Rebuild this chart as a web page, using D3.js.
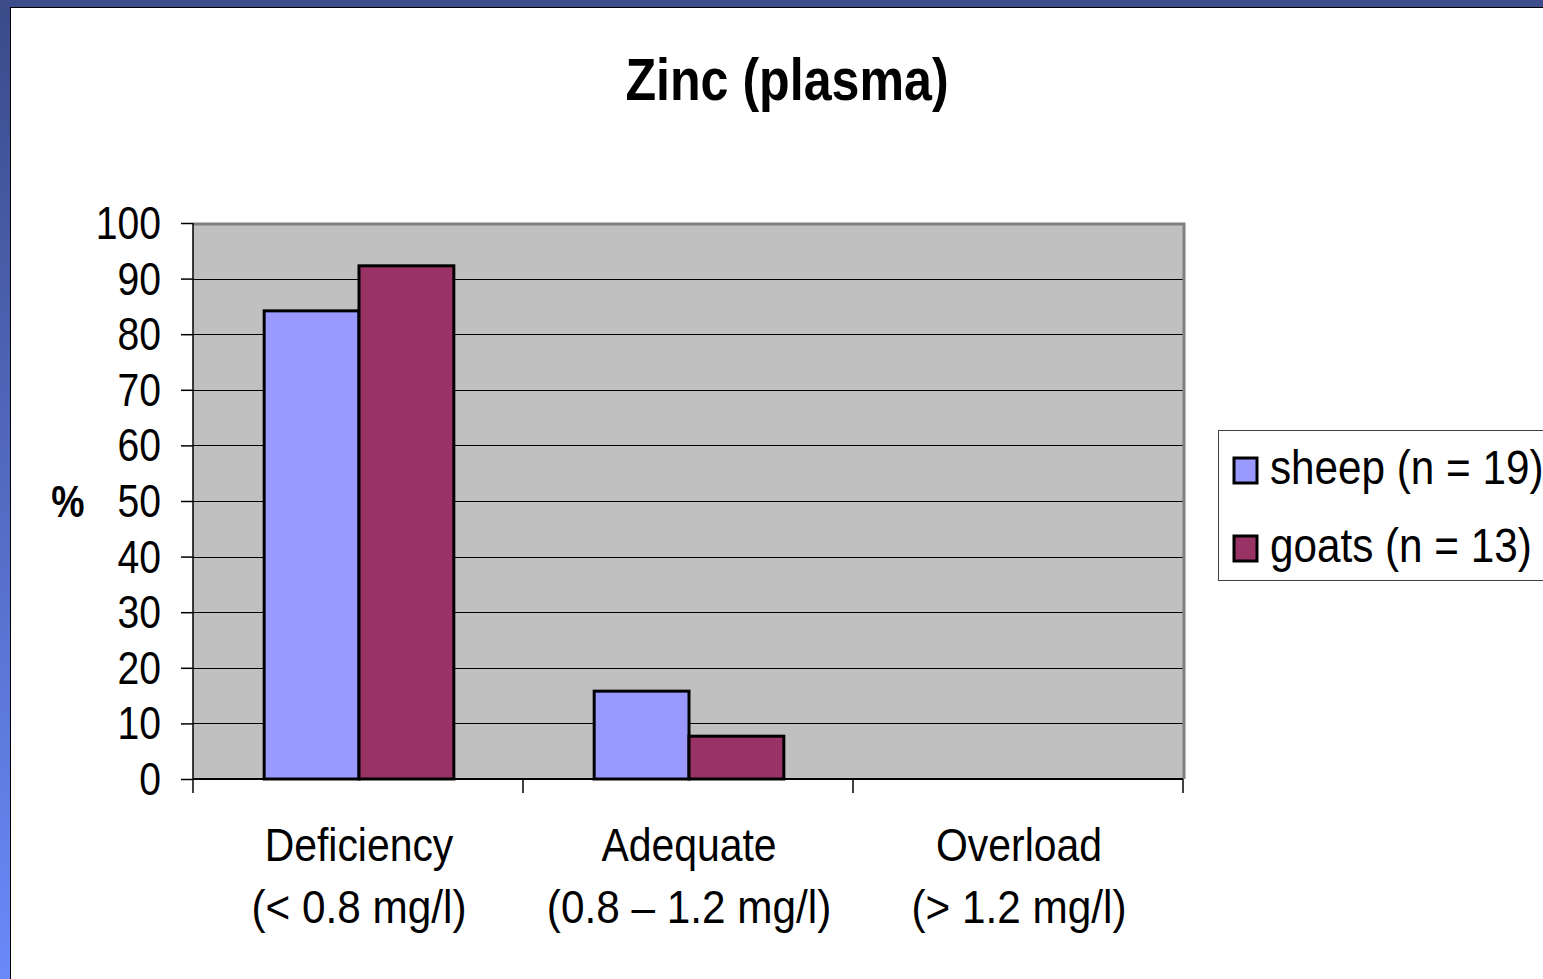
<!DOCTYPE html>
<html>
<head>
<meta charset="utf-8">
<script src="https://cdn.jsdelivr.net/npm/d3@7"></script>
<style>
  html, body { margin: 0; padding: 0; background: #fff; }
  svg { display: block; }
</style>
</head>
<body>
<script>
// data
var categories = ["Deficiency", "Adequate", "Overload"];
var rangeLabels = ["(< 0.8 mg/l)", "(0.8 \u2013 1.2 mg/l)", "(> 1.2 mg/l)"];
var seriesNames = ["sheep (n = 19)", "goats (n = 13)"];
var sheepValues = [84.2, 15.8, 0];
var goatsValues = [92.3, 7.7, 0];
var yTicks = [0, 10, 20, 30, 40, 50, 60, 70, 80, 90, 100];
var seriesColors = ["#9999FF", "#993366"];

var W = 1543, H = 979;
var plot = { left: 193, right: 1183, top: 223, bottom: 779 };

var svg = d3.select("body").append("svg")
    .attr("width", W)
    .attr("height", H);

// slide frame
var defs = svg.append("defs");
var grad = defs.append("linearGradient")
    .attr("id", "sideGrad")
    .attr("x1", 0).attr("y1", 0).attr("x2", 0).attr("y2", 1);
grad.append("stop").attr("offset", "0%").attr("stop-color", "#3B4B89");
grad.append("stop").attr("offset", "100%").attr("stop-color", "#6A8AFA");

svg.append("rect").attr("x", 0).attr("y", 0).attr("width", W).attr("height", H).attr("fill", "#fff");
svg.append("rect").attr("x", 0).attr("y", 0).attr("width", 10).attr("height", H).attr("fill", "url(#sideGrad)");
svg.append("rect").attr("x", 0).attr("y", 0).attr("width", W).attr("height", 7).attr("fill", "#3D4D8B");
svg.append("line").attr("x1", 10.5).attr("x2", 10.5).attr("y1", 7).attr("y2", H)
    .attr("stroke", "#000").attr("stroke-width", 1);
svg.append("line").attr("x1", 10).attr("x2", W).attr("y1", 7.5).attr("y2", 7.5)
    .attr("stroke", "#000").attr("stroke-width", 1);

// narrow text helper (slide text is squeezed sideways a bit)
function addText(x, y, str, size, weight, anchor, sx) {
    return svg.append("text")
        .attr("transform", "translate(" + x + "," + y + ") scale(" + (sx || 0.85) + ",1)")
        .attr("text-anchor", anchor || "middle")
        .style("font-family", "Arial, 'Liberation Sans', sans-serif")
        .style("font-size", size + "px")
        .style("font-weight", weight || "normal")
        .style("fill", "#000")
        .style("white-space", "pre")
        .text(str);
}

// title
addText(787, 100, "Zinc (plasma)", 59, "bold");

// scales
var x0 = d3.scaleBand()
    .domain(categories)
    .range([plot.left, plot.right])
    .padding(0);

var x1 = d3.scaleBand()
    .domain(seriesNames)
    .range([0, x0.bandwidth()])
    .paddingInner(0)
    .paddingOuter(0.74);

var y = d3.scaleLinear()
    .domain([0, 100])
    .range([plot.bottom, plot.top]);

// plot area
svg.append("rect")
    .attr("x", plot.left).attr("y", plot.top)
    .attr("width", plot.right - plot.left)
    .attr("height", plot.bottom - plot.top)
    .attr("fill", "#C0C0C0");

// gridlines
svg.append("g")
    .selectAll("line")
    .data(yTicks.filter(function(d) { return d > 0 && d < 100; }))
    .join("line")
    .attr("x1", plot.left).attr("x2", plot.right)
    .attr("y1", function(d) { return Math.round(y(d)) + 0.5; })
    .attr("y2", function(d) { return Math.round(y(d)) + 0.5; })
    .attr("stroke", "#000")
    .attr("stroke-width", 1);

// plot border, top and right grey
svg.append("path")
    .attr("d", "M" + plot.left + "," + (plot.top + 1) + "H" + (plot.right + 1) + "V" + plot.bottom)
    .attr("fill", "none")
    .attr("stroke", "#808080")
    .attr("stroke-width", 3);

// bars
var rows = categories.map(function(c, i) {
    return { cat: c, vals: [sheepValues[i], goatsValues[i]] };
});

var groups = svg.append("g")
    .selectAll("g")
    .data(rows)
    .join("g")
    .attr("transform", function(d) { return "translate(" + x0(d.cat) + ",0)"; });

groups.selectAll("rect")
    .data(function(d) {
        return d.vals.map(function(v, j) { return { name: seriesNames[j], value: v, j: j }; })
            .filter(function(e) { return e.value > 0; });
    })
    .join("rect")
    .attr("x", function(d) { return x1(d.name) + 1; })
    .attr("y", function(d) { return y(d.value); })
    .attr("width", x1.bandwidth())
    .attr("height", function(d) { return y(0) - y(d.value); })
    .attr("fill", function(d) { return seriesColors[d.j]; })
    .attr("stroke", "#000")
    .attr("stroke-width", 3);

// y axis
var yAxis = d3.axisLeft(y)
    .tickValues(yTicks)
    .tickSize(12)
    .tickFormat("");

var yg = svg.append("g")
    .attr("transform", "translate(" + plot.left + ",0)")
    .call(yAxis);
yg.selectAll("path, line").attr("stroke", "#000").attr("stroke-width", 1.5);
yg.select(".domain").attr("d", "M0," + plot.top + "V" + plot.bottom);

yTicks.forEach(function(t) {
    addText(161, y(t) + 16, String(t), 46, "normal", "end");
});

// x axis
var xg = svg.append("g")
    .attr("transform", "translate(0," + plot.bottom + ")");
xg.append("line")
    .attr("x1", plot.left).attr("x2", plot.right)
    .attr("y1", 0).attr("y2", 0)
    .attr("stroke", "#000").attr("stroke-width", 2);
xg.selectAll("line.tick")
    .data(categories.concat(["end"]))
    .join("line")
    .attr("class", "tick")
    .attr("x1", function(d) { return d === "end" ? plot.right : x0(d); })
    .attr("x2", function(d) { return d === "end" ? plot.right : x0(d); })
    .attr("y1", 0).attr("y2", 14)
    .attr("stroke", "#000").attr("stroke-width", 1.5);

categories.forEach(function(c, i) {
    var cx = x0(c) + x0.bandwidth() / 2;
    addText(cx + 1, 861, c, 47, "normal", "middle", 0.87);
    addText(cx + 1, 923, rangeLabels[i], 47, "normal", "middle", 0.9);
});

// y axis title
addText(68, 517, "%", 44, "bold");

// legend
var legend = svg.append("g");
legend.append("rect")
    .attr("x", 1218.5).attr("y", 430.5)
    .attr("width", 340).attr("height", 150)
    .attr("fill", "#fff")
    .attr("stroke", "#404040")
    .attr("stroke-width", 1);

var legendY = d3.scalePoint()
    .domain(seriesNames)
    .range([470, 548]);

seriesNames.forEach(function(s, j) {
    legend.append("rect")
        .attr("x", 1234).attr("y", legendY(s) - 12)
        .attr("width", 23).attr("height", 25)
        .attr("fill", seriesColors[j])
        .attr("stroke", "#000")
        .attr("stroke-width", 3);
    addText(1270, legendY(s) + 14, s, 48, "normal", "start", 0.88);
});
</script>
</body>
</html>
